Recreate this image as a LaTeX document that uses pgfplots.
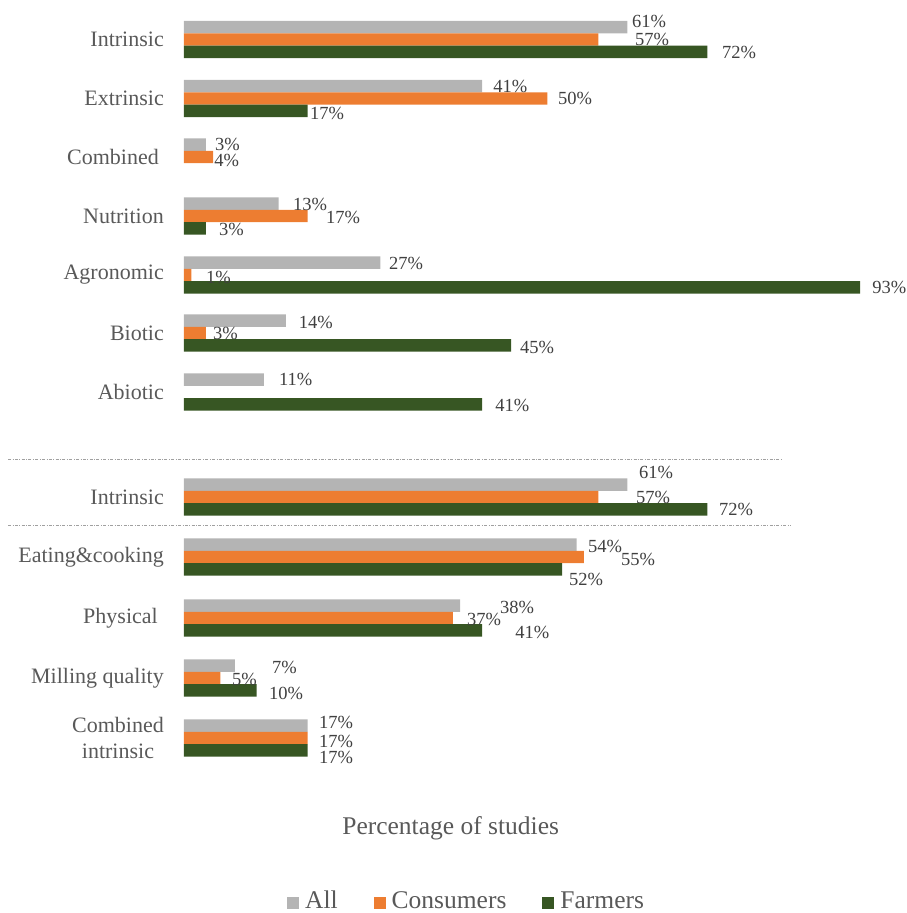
\documentclass[border=0pt]{standalone}
\usepackage{pgfplots}
\usepackage{pgfplotstable}
\pgfplotsset{compat=1.18}
\usepackage{fontspec}
\setmainfont{Liberation Serif}
\definecolor{cAll}{HTML}{B4B4B4}
\definecolor{cCon}{HTML}{ED7D31}
\definecolor{cFar}{HTML}{375623}
\definecolor{txt}{HTML}{595959}
\definecolor{lbl}{HTML}{404040}
\definecolor{sep}{HTML}{A0A0A0}

% y = category centre (pixels from top, negated), x = percentage, dx/dy = label offsets
\pgfplotstableread{
y      x   dx    dy
-39.5  61  4.5   6
-98.5  41  11    0
-157   3   9     0
-216   13  14.5  -1
-275   27  8.7   -1
-333   14  13    -2
-392   11  15    0
-497   61  11.5  12
-557   54  11.4  -2
-618   38  39.7  -2
-678   7   37    -2
-738   17  11.4  3
}\tAll
\pgfplotstableread{
y      x   dx    dy
-39.5  57  36.6  0
-98.5  50  10.5  0
-157   4   1     -3
-216   17  18.4  -1
-275   1   14.7  -2
-333   3   7     0
-497   57  37.6  0
-557   55  37    -2
-618   37  14    -1
-678   5   11.6  -1
-738   17  11.4  -3
}\tCon
\pgfplotstableread{
y      x   dx    dy
-39.5  72  14.6  -1
-98.5  17  2.4   -3
-216   3   13.2  -1
-275   93  12    0
-333   45  8.8   -2
-392   41  13    -1
-497   72  11.6  0
-557   52  7     -10
-618   41  33    -2
-678   10  12.3  -3
-738   17  11.4  -7
}\tFar

\begin{document}
\begin{tikzpicture}
\begin{axis}[
  scale only axis, width=700pt, height=780pt,
  xmin=0, xmax=96.29, ymin=-780, ymax=0,
  enlargelimits=false, clip=false,
  axis line style={draw=none},
  xtick=\empty,
  ytick={-39.5,-98.5,-157,-216,-275,-333,-392,-497,-557,-618,-678,-738},
  yticklabels={Intrinsic,Extrinsic,{Combined\hspace{5pt}},Nutrition,Agronomic,Biotic,Abiotic,Intrinsic,Eating\&cooking,{Physical\hspace{6pt}},Milling quality,{Combined\\intrinsic}},
  major tick length=0pt,
  yticklabel style={font=\fontsize{22}{26}\selectfont, text=txt, inner sep=0pt, xshift=-20pt, align=center},
  xbar, bar width=12.4pt,
  xlabel={Percentage of studies},
  xlabel style={at={(axis description cs:0.381,-0.0622)}, anchor=center, inner sep=0pt, font=\fontsize{25.5}{28}\selectfont, text=txt},
  legend columns=3,
  legend style={at={(axis description cs:0.147,-0.155)}, anchor=west, draw=none, fill=none, inner sep=0pt,
    font=\fontsize{25.5}{28}\selectfont, text=txt, nodes={inner sep=0pt},
    /tikz/every odd column/.append style={column sep=6pt},
    /tikz/every even column/.append style={column sep=36pt}},
  point meta=explicit symbolic,
  nodes near coords={\pgfplotspointmeta\%},
  visualization depends on={\thisrow{dx} \as \mydx},
  visualization depends on={\thisrow{dy} \as \mydy},
  every node near coord/.append style={anchor=west, inner sep=0pt, font=\fontsize{18.5}{20}\selectfont, text=lbl, xshift=\mydx pt, yshift=\mydy pt},
]
\addplot[fill=cAll, draw=none, bar shift=12.4pt,
  legend image code/.code={\fill[cAll] (0pt,-8pt) rectangle (12pt,4pt);}]
  table[x=x, y=y, meta=x] {\tAll};
\addlegendentry{All}
\addplot[fill=cCon, draw=none, bar shift=0pt,
  legend image code/.code={\fill[cCon] (0pt,-8pt) rectangle (12pt,4pt);}]
  table[x=x, y=y, meta=x] {\tCon};
\addlegendentry{Consumers}
\addplot[fill=cFar, draw=none, bar shift=-12.4pt,
  legend image code/.code={\fill[cFar] (0pt,-8pt) rectangle (12pt,4pt);}]
  table[x=x, y=y, meta=x] {\tFar};
\addlegendentry{Farmers}
\draw[sep, line width=0.8pt, dash pattern=on 3pt off 1.5pt on 0.8pt off 1.5pt] (axis cs:-24.2,-459) -- (axis cs:82.4,-459);
\draw[sep, line width=0.8pt, dash pattern=on 3pt off 1.5pt on 0.8pt off 1.5pt] (axis cs:-24.2,-525) -- (axis cs:83.4,-525);
\path (axis cs:-25.31,-913) rectangle (axis cs:99.45,0);
\end{axis}
\end{tikzpicture}
\end{document}
